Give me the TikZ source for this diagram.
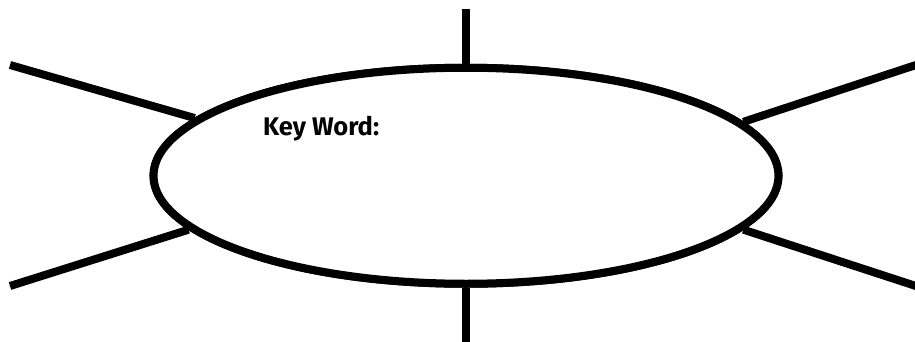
\documentclass[tikz,border=0pt]{standalone}
\usepackage{fontspec}
\setsansfont{Fira Sans}
\usetikzlibrary{shapes.geometric}
\begin{document}
\begin{tikzpicture}[x=1pt,y=1pt,
  spoke/.style={line width=8pt,black},
  bubble/.style={ellipse,draw=black,fill=white,line width=8pt,minimum width=625pt,minimum height=216pt,inner sep=0pt}]
\useasboundingbox (0,0) rectangle (915,341);
\node[bubble] (e) at (466,165.25) {};
\coordinate (t) at (466,332);
\coordinate (b) at (466,-5);
\coordinate (ul) at (10,276);
\coordinate (ll) at (10,55);
\coordinate (ur) at (922,278);
\coordinate (lr) at (922,53);
\draw[spoke] (t) -- (e.north);
\draw[spoke] (b) -- (e.south);
\draw[spoke] (ul) -- (e.168.6);
\draw[spoke] (ll) -- (e.191.3);
\draw[spoke] (ur) -- (e.11.4);
\draw[spoke] (lr) -- (e.-11.3);
\node[bubble] at (e) {};
\node[anchor=base west,inner sep=0pt,font=\sffamily\bfseries\fontsize{25.5}{28}\selectfont] (k) at (263,206) {Key Word:};
\end{tikzpicture}
\end{document}
